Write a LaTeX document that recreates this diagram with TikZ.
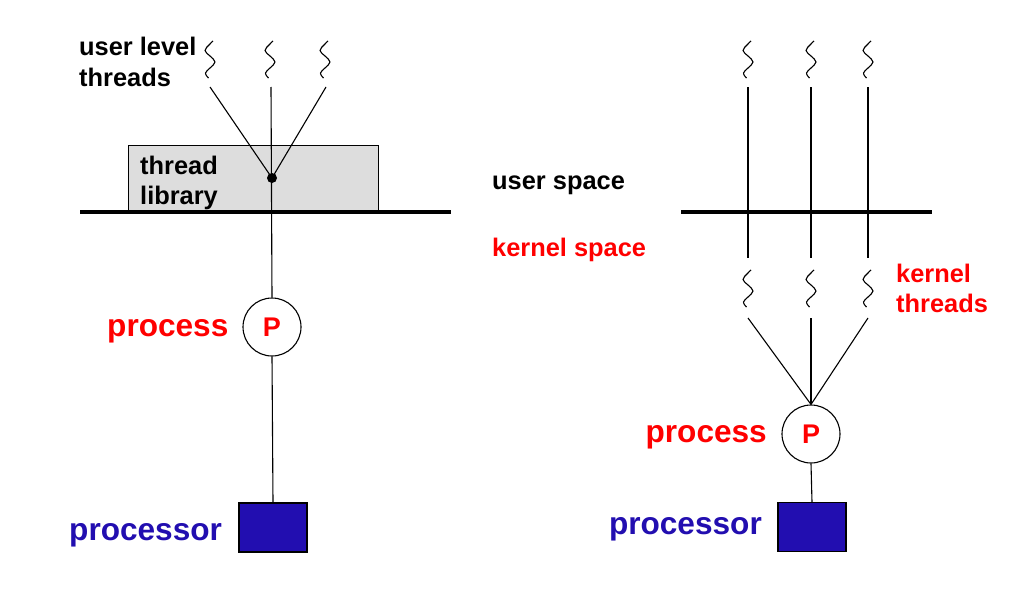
\documentclass[tikz,border=0pt]{standalone}
\usepackage{fontspec}
\setmainfont{Liberation Sans}
\definecolor{procblue}{RGB}{34,14,176}
\definecolor{libgray}{RGB}{221,221,221}
\begin{document}
\begin{tikzpicture}[x=1pt,y=-1pt,
  small/.style={font=\bfseries\fontsize{25.4}{30}\selectfont, inner sep=0pt, anchor=base west, align=left},
  big/.style={font=\bfseries\fontsize{31.6}{36}\selectfont, inner sep=0pt, anchor=base west},
  wire/.style={line width=1.1pt, black},
  bar/.style={line width=4pt, black},
  procnode/.style={circle, draw=black, line width=1.1pt, fill=white, minimum size=58pt, inner sep=0pt, text=red, font=\bfseries\fontsize{27}{30}\selectfont},
  cpu/.style={draw=black, line width=1.1pt, fill=procblue, minimum width=68pt, minimum height=49pt, inner sep=0pt},
  squig/.pic={\draw[line width=1.1pt] plot[smooth, tension=0.7] coordinates {(3,0) (-0.5,3.5) (-5,9.5) (0,15) (5,21) (0,27) (-4.5,32) (-1.5,37)};}
]
\useasboundingbox (0,0) rectangle (1036,602);

% ---------- left diagram ----------
\node[draw=black, line width=1pt, fill=libgray, minimum width=250pt, minimum height=65pt, anchor=north west, inner sep=0pt] (lib) at (128,145) {};
\node[small] (libtxt) at (140,174) {thread};
\node[small] at (140,204) {library};

\draw[bar] (80,212) -- (451,212);

\node[small] (ult1) at (79,56) {user level};
\node[small] (ult2) at (79,86) {threads};

\pic at (210,41) {squig};
\pic at (270,41) {squig};
\pic at (325,41) {squig};
\coordinate (la) at (210,87);
\coordinate (lb) at (271,87);
\coordinate (lc) at (326,87);

\node[circle, fill=black, minimum size=10pt, inner sep=0pt] (dot) at (272,178) {};
\node[procnode] (P1) at (272,327) {P};
\node[cpu] (C1) at (273,527.5) {};

\draw[wire] (la) -- (dot.center);
\draw[wire] (lc) -- (dot.center);
\draw[wire] (lb) -- (P1.north);
\draw[wire] (P1.south) -- (C1.north);

\node[big, text=red] at (107,336) {process};
\node[big, text=procblue] at (69,540) {processor};

% ---------- middle labels ----------
\node[small] at (492,189) {user space};
\node[small, text=red] at (492,256) {kernel space};

% ---------- right diagram ----------
\draw[bar] (681,212) -- (932,212);

\pic at (748,41) {squig};
\pic at (811,41) {squig};
\pic at (868,41) {squig};
\pic at (748,270) {squig};
\pic at (811,270) {squig};
\pic at (868,270) {squig};

\coordinate (ra1) at (748,87);  \coordinate (ra2) at (748,258);
\coordinate (rb1) at (811,87);  \coordinate (rb2) at (811,258);
\coordinate (rc1) at (868,87);  \coordinate (rc2) at (868,258);
\draw[wire] (ra1) -- (ra2);
\draw[wire] (rb1) -- (rb2);
\draw[wire] (rc1) -- (rc2);

\coordinate (ka) at (748,318);
\coordinate (kb) at (811,318);
\coordinate (kc) at (868,318);

\node[procnode] (P2) at (811,434) {P};
\node[cpu] (C2) at (812,527) {};

\draw[wire] (ka) -- (P2.north);
\draw[wire] (kb) -- (P2.north);
\draw[wire] (kc) -- (P2.north);
\draw[wire] (P2.south) -- (C2.north);

\node[small, text=red] at (896,282) {kernel};
\node[small, text=red] at (896,312) {threads};
\node[big, text=red, anchor=base east] at (767,442) {process};
\node[big, text=procblue, anchor=base east] at (762,534) {processor};
\end{tikzpicture}
\end{document}
